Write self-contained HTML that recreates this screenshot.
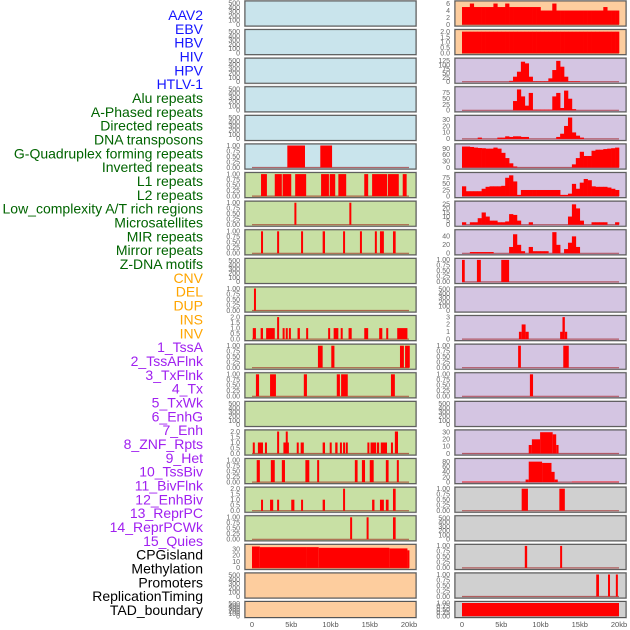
<!DOCTYPE html>
<html><head><meta charset="utf-8"><style>
body{margin:0;background:#fff;}
svg{display:block;font-family:"Liberation Sans",sans-serif;}
</style></head><body>
<svg id="chart" width="630" height="630" viewBox="0 0 630 630" xmlns="http://www.w3.org/2000/svg"></svg>
<script>
const labels=["AAV2","EBV","HBV","HIV","HPV","HTLV-1","Alu repeats","A-Phased repeats","Directed repeats","DNA transposons","G-Quadruplex forming repeats","Inverted repeats","L1 repeats","L2 repeats","Low_complexity A/T rich regions","Microsatellites","MIR repeats","Mirror repeats","Z-DNA motifs","CNV","DEL","DUP","INS","INV","1_TssA","2_TssAFlnk","3_TxFlnk","4_Tx","5_TxWk","6_EnhG","7_Enh","8_ZNF_Rpts","9_Het","10_TssBiv","11_BivFlnk","12_EnhBiv","13_ReprPC","14_ReprPCWk","15_Quies","CPGisland","Methylation","Promoters","ReplicationTiming","TAD_boundary"];
const labelColors=["#1515ff","#1515ff","#1515ff","#1515ff","#1515ff","#1515ff","#006400","#006400","#006400","#006400","#006400","#006400","#006400","#006400","#006400","#006400","#006400","#006400","#006400","#ffa500","#ffa500","#ffa500","#ffa500","#ffa500","#a020f0","#a020f0","#a020f0","#a020f0","#a020f0","#a020f0","#a020f0","#a020f0","#a020f0","#a020f0","#a020f0","#a020f0","#a020f0","#a020f0","#a020f0","#000","#000","#000","#000","#000"];
const xTickKb=[0,5,10,15,20];
const xTickLabels=["0","5kb","10kb","15kb","20kb"];
const T1=["0.00","0.25","0.50","0.75","1.00"], T2=["0.0","0.5","1.0","1.5","2.0"], TE=["0","100","200","300","400","500"];
const leftYMax=[520,520,520,520,520,1,1,1,1,520,1,2,1,1,520,2,1,2,1,35,520,520];
const leftTicks=[TE,TE,TE,TE,TE,T1,T1,T1,T1,TE,T1,T2,T1,T1,TE,T2,T1,T2,T1,["0","10","20","30"],TE,TE];
const leftBars=[[],[],[],[],[],
[[4.5,6.75,1],[8.7,10.2,1]],
[[1.15,1.9,1],[2.9,3.8,1],[3.9,5.0,1],[5.5,6.9,1],[8.8,9.8,1],[9.9,10.6,1],[11.0,12.0,1],[14.3,14.8,1],[15.3,17.2,1],[17.3,18.7,1],[19.2,19.7,1]],
[[5.4,5.6,1],[12.4,12.6,1]],
[[1.15,1.4,1],[3.2,3.4,1],[6.25,6.5,1],[9.0,9.3,1],[11.6,11.85,1],[13.75,14.0,1],[15.65,15.9,1],[16.3,16.8,1],[17.96,18.3,1]],
[],
[[0.25,0.5,1]],
[[0.1,0.5,1],[1.1,1.4,1],[1.8,2.9,1],[3.2,3.4,2],[3.9,4.1,1],[4.3,4.5,1],[4.7,4.9,1],[5.8,6.1,1],[6.9,7.1,1],[9.7,9.9,1],[10.4,11.0,1],[11.3,11.5,1],[12.3,12.7,1],[14.3,14.8,1],[16.2,16.6,1],[17.1,17.3,1],[18.5,19.8,1]],
[[8.4,9.0,1],[10.1,10.5,1],[18.85,19.35,1],[19.5,20.1,1]],
[[0.5,0.9,1],[2.3,3.05,1],[6.6,7.0,1],[10.8,11.2,1],[11.35,12.2,1],[17.7,18.2,1]],
[],
[[0.1,0.35,1],[0.75,1.4,1],[1.65,1.9,1],[3.2,3.4,2],[4.0,4.7,1],[4.3,4.45,2],[5.7,5.95,1],[6.2,6.6,1],[9.0,9.3,1],[9.9,10.05,1],[10.6,10.9,1],[11.2,11.3,1],[11.6,11.8,1],[11.95,12.2,1],[14.7,14.95,1],[15.1,15.8,1],[15.9,16.2,1],[16.4,17.2,1],[17.7,17.9,1],[18.2,18.6,2]],
[[0.6,1.0,1],[2.4,2.9,1],[3.8,4.2,1],[6.8,7.3,1],[8.3,8.55,1],[13.1,13.45,1],[14.0,14.4,1],[15.0,15.5,1],[17.05,17.4,1],[18.45,18.7,1]],
[[1.15,1.4,1],[2.3,2.7,1],[3.2,3.4,1],[5.0,5.4,1],[6.25,6.5,1],[9.0,9.3,1],[11.6,11.85,2],[15.3,15.6,1],[16.3,16.8,1],[17.05,17.4,1],[17.96,18.3,2]],
[[12.5,12.75,1],[14.6,14.85,1],[17.96,18.3,1]],
[[0,1,34],[1,7,33],[7,8.5,33],[8.5,17.5,32],[17.5,19.8,31],[19.8,20,28]],
[],[]];
const rightYMax=[6.3,2.05,132,95,34,105,90,27,52,1,520,3,1,1,520,31,86,1,520,1,1,1];
const rightTicks=[["0","2","4","6"],T2,["0","25","50","75","100","125"],["0","25","50","75"],["0","10","20","30"],["0","30","60","90"],["0","25","50","75"],["0","5","10","15","20","25"],["0","20","40"],T1,TE,["0","1","2","3"],T1,T1,TE,["0","10","20","30"],["0","20","40","60","80"],T1,TE,T1,T1,T1];
const rightHist={
0:[5,5,6,5,5,5,5,5,6,5,5,6,5,5,5,5,5,5,5,5,4,4,4,6,4,4,4,4,4,4,4,4,4,4,4,4,5,4,4,4],
1:[2,2,2,2,2,2,2,2,2,2,2,2,2,2,2,2,2,2,2,2,2,2,2,2,2,2,2,2,2,2,2,2,2,2,2,2,2,2,2,2],
2:[0,0,0,0,0,0,0,0,0,0,0,0,5,30,60,120,110,30,3,3,3,3,20,70,125,90,30,3,3,3,0,0,0,0,0,0,0,0,0,0],
3:[0,0,0,0,0,0,0,0,0,0,0,0,0,40,90,60,20,75,3,3,3,3,3,60,75,10,85,50,5,0,0,0,0,0,0,0,0,0,0,0],
4:[0,0,0,0,2,0,0,0,0,2,2,4,3,4,4,3,3,0,0,0,0,0,0,0,3,8,20,33,10,5,2,0,0,0,0,0,0,0,0,0],
5:[100,100,98,95,93,92,90,90,95,90,70,45,20,5,0,0,0,0,0,0,0,0,0,0,0,0,0,0,15,45,75,55,55,80,85,85,88,90,92,95],
6:[40,20,20,20,20,30,38,40,40,40,42,75,85,60,5,25,25,25,25,25,25,25,25,25,25,5,5,10,50,30,55,70,65,40,38,38,38,35,30,25],
7:[3,0,3,3,8,15,10,5,5,3,3,4,13,12,5,0,0,3,0,0,0,0,0,0,0,0,0,10,25,20,5,0,0,3,3,3,3,0,0,3],
8:[0,0,3,3,3,3,3,3,0,0,0,0,15,45,20,5,0,15,5,5,5,5,0,50,20,0,10,25,40,15,0,0,0,0,0,0,0,0,0,0]};
const rightBars={9:[[0,0.35,1],[1.9,2.4,1],[5.0,6.0,1]],10:[],
11:[[7.25,7.6,1],[7.6,8.1,2],[8.1,8.5,1],[12.5,12.8,1],[12.8,13.1,3],[13.1,13.4,1]],
12:[[7.15,7.5,1],[12.9,13.6,1]],13:[[8.65,9.05,1]],14:[],
15:[[8.5,8.9,12],[8.9,9.95,20],[9.95,11.55,30],[11.55,12.0,27],[12.0,12.3,12]],
16:[[0,7.4,2],[8.1,8.5,10],[8.5,10.2,80],[10.2,11.4,75],[11.4,11.8,40],[11.8,12.2,10],[14.0,20,2]],
17:[[7.6,8.4,1],[12.4,13.1,1]],18:[],19:[[8.0,8.3,1],[12.5,12.75,1]],
20:[[17.1,17.45,1],[18.6,18.85,1],[19.6,19.85,1]],21:[[0,20,1]]};
const leftBg=["#c9e4ec","#c9e4ec","#c9e4ec","#c9e4ec","#c9e4ec","#c9e4ec","#c8e0a4","#c8e0a4","#c8e0a4","#c8e0a4","#c8e0a4","#c8e0a4","#c8e0a4","#c8e0a4","#c8e0a4","#c8e0a4","#c8e0a4","#c8e0a4","#c8e0a4","#fdcd9e","#fdcd9e","#fdcd9e"];
const rightBg=["#fdcd9e","#fdcd9e","#d4c5e2","#d4c5e2","#d4c5e2","#d4c5e2","#d4c5e2","#d4c5e2","#d4c5e2","#d4c5e2","#d4c5e2","#d4c5e2","#d4c5e2","#d4c5e2","#d4c5e2","#d4c5e2","#d4c5e2","#d0d0d0","#d0d0d0","#d0d0d0","#d0d0d0","#d0d0d0"];

const svg=document.getElementById('chart');
const NS="http://www.w3.org/2000/svg";
function mk(tag,attrs,parent){const e=document.createElementNS(NS,tag);for(const k in attrs)e.setAttribute(k,attrs[k]);(parent||svg).appendChild(e);return e;}

// labels
labels.forEach((t,i)=>{
  const y=15+i*(595/(labels.length-1));
  const el=mk('text',{x:203,y:y+5,'text-anchor':'end','font-size':'14',fill:labelColors[i]});
  el.textContent=t;
  
  
});

function panelTop(i){return i<21?1+i*28.6:601.5;}
function panelH(i){return i<21?25:16;}

function drawPanel(col,i,bg,ymax,ticks,bars,hist){
  const px=col===0?245:455, pw=171;
  const top=panelTop(i), h=panelH(i);
  const g=mk('g',{});
  
  
  mk('rect',{x:px-1,y:top-1,width:pw+2,height:h+2,fill:'#bbb'},g);
  mk('rect',{x:px,y:top,width:pw,height:h,fill:bg,stroke:'#555','stroke-width':1},g);
  const x0=px+7, kbPx=7.85;
  const sx=kb=>x0+kb*kbPx;
  const yb=top+h-1.5, yt=top+1.5;
  const sy=v=>yb-(v/ymax)*(yb-yt);
  // ticks
  ticks.forEach(t=>{
    const v=parseFloat(t);
    const tx=mk('text',{x:px-5,y:sy(v)+2.3,'text-anchor':'end','font-size':'7',fill:'#666'},g);
    tx.textContent=t;
    
    
  });
  const hasData=(bars&&bars.length)||hist;
  if(hasData){
    mk('line',{x1:sx(0),x2:sx(20),y1:yb,y2:yb,stroke:'rgba(150,0,0,0.55)','stroke-width':1.2},g);
  }
  if(hist){
    hist.forEach((v,k)=>{
      if(v<=0)return;
      const x1=sx(k*0.5),x2=sx((k+1)*0.5);
      const r=mk('rect',{x:x1,y:sy(v),width:x2-x1+0.3,height:yb-sy(v),fill:'#ff0000'},g);
      
      
    });
  }
  if(bars){
    bars.forEach(b=>{
      const x1=sx(b[0]);const w=Math.max(sx(b[1])-x1,2);
      const r=mk('rect',{x:x1,y:sy(b[2]),width:w,height:yb-sy(b[2]),fill:'#ff0000'},g);
      
      
    });
  }
}
for(let i=0;i<22;i++){
  drawPanel(0,i,leftBg[i],leftYMax[i],leftTicks[i],leftBars[i],null);
  drawPanel(1,i,rightBg[i],rightYMax[i],rightTicks[i],rightBars[i]||null,rightHist[i]||null);
}
// x axes
[252,462].forEach((x0,c)=>{
  xTickKb.forEach((kb,j)=>{
    const t=mk('text',{x:x0+kb*7.85,y:627,'text-anchor':'middle','font-size':'7.5',fill:'#555'});
    t.textContent=xTickLabels[j];
    
    
  });
});
</script>
</body></html>
